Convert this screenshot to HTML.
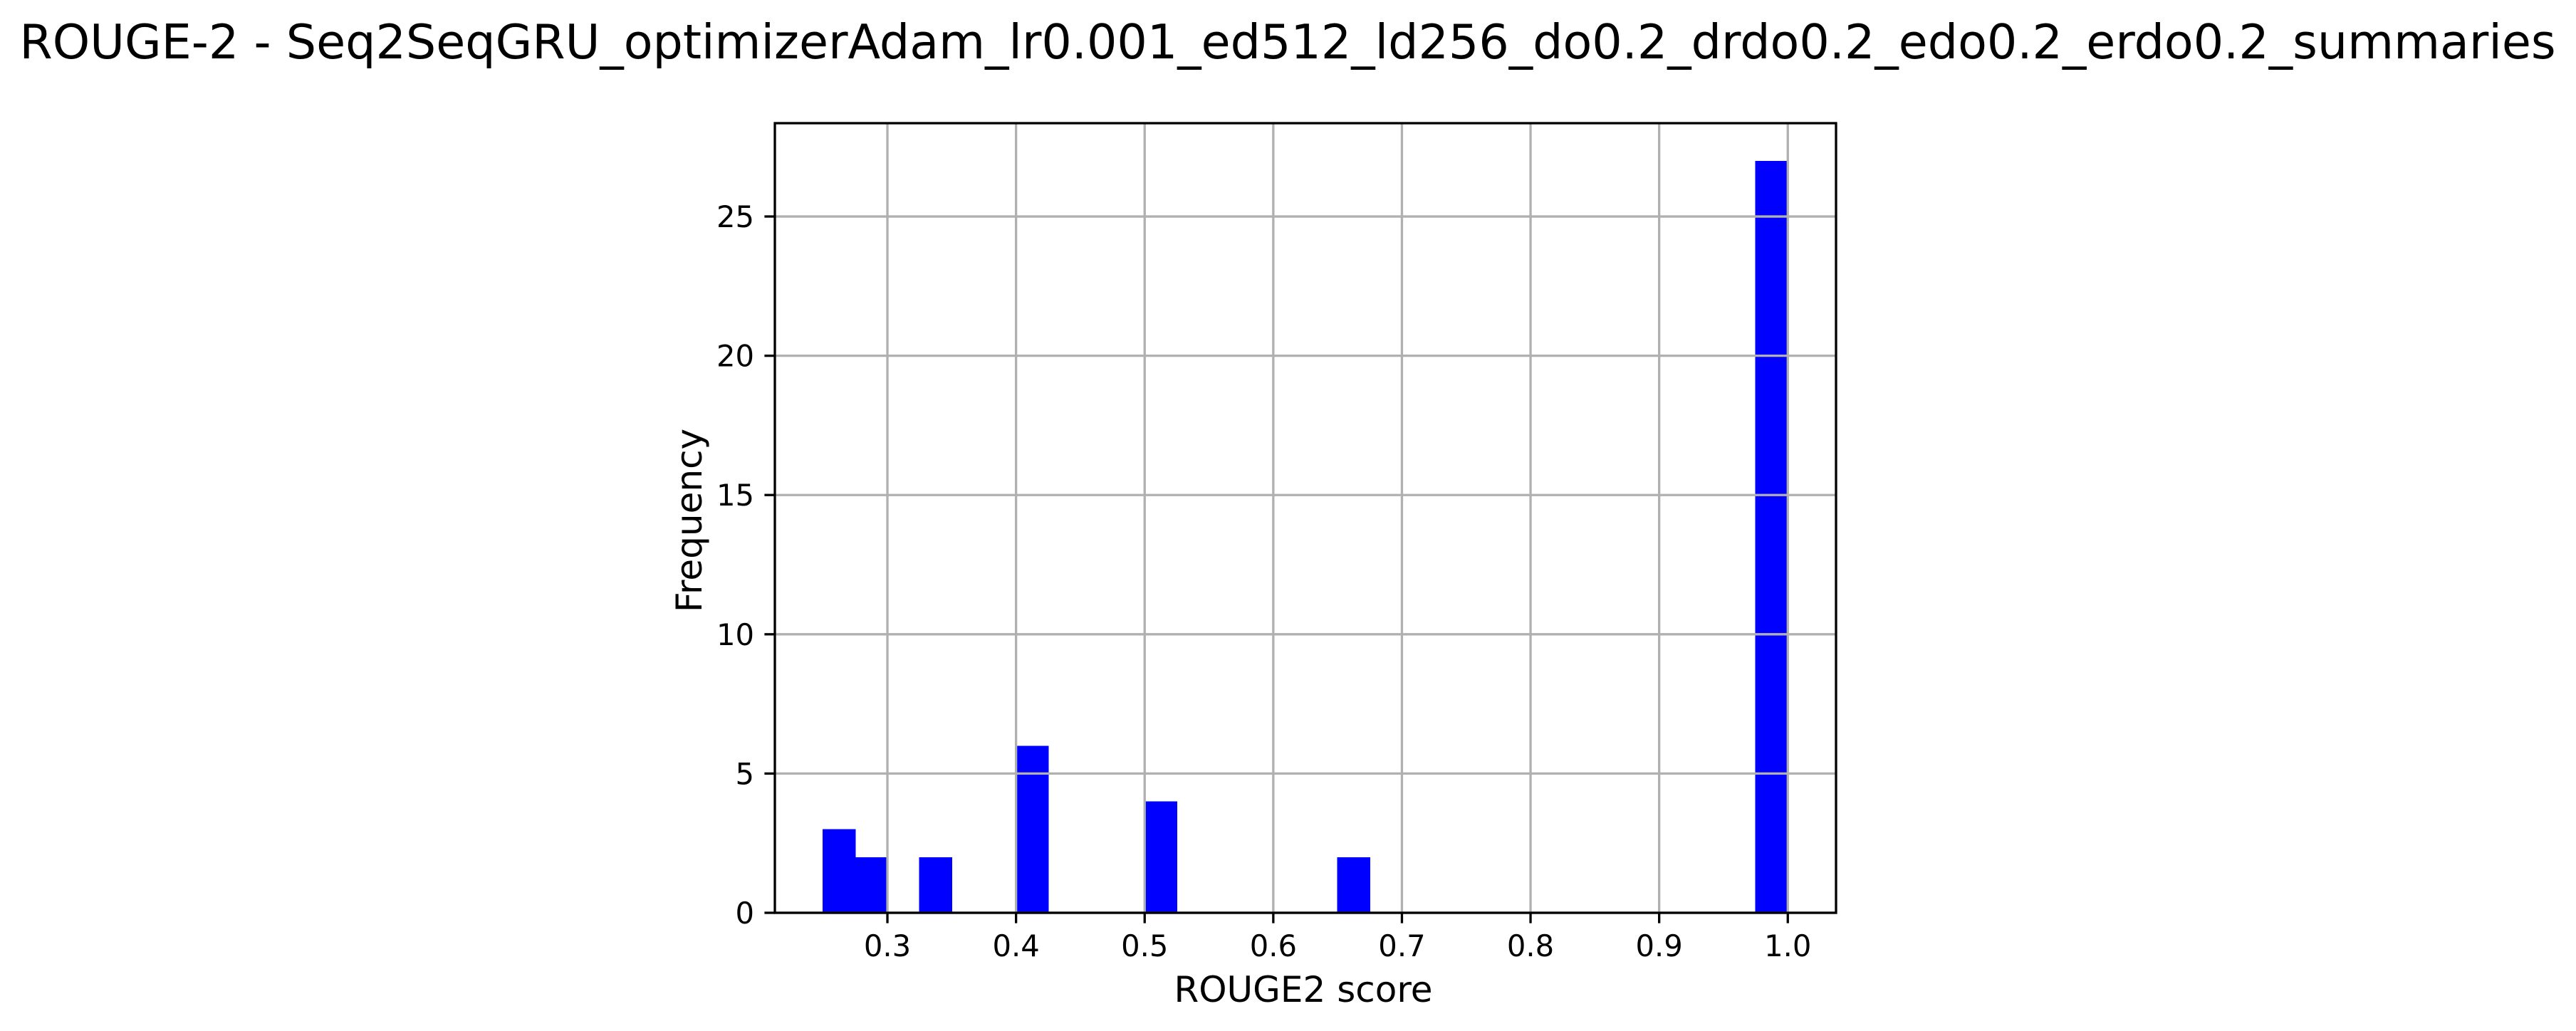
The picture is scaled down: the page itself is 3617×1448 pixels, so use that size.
<!DOCTYPE html>
<html><head><meta charset="utf-8"><style>html,body{margin:0;padding:0;background:#fff}svg{display:block}</style></head>
<body>
<svg id="chart" width="3617" height="1448" viewBox="0 0 3617 1448" xmlns="http://www.w3.org/2000/svg" font-family="DejaVu Sans, Liberation Sans, sans-serif">
<rect x="0" y="0" width="3617" height="1448" fill="#fff"/>
<text x="1808" y="82" text-anchor="middle" font-size="66.7" fill="#000">ROUGE-2 - Seq2SeqGRU_optimizerAdam_lr0.001_ed512_ld256_do0.2_drdo0.2_edo0.2_erdo0.2_summaries</text>
<g id="bars"></g>
<g id="grid"></g>
<g id="axes"></g>
<text x="1830" y="1407" text-anchor="middle" font-size="50" fill="#000">ROUGE2 score</text>
<text x="0" y="0" transform="translate(985,731) rotate(-90)" text-anchor="middle" font-size="50" fill="#000">Frequency</text>
</svg>
<script>
const binStart = 0.25;
const binWidth = 0.025;
const counts = [3,2,0,2,0,0,6,0,0,0,4,0,0,0,0,0,2,0,0,0,0,0,0,0,0,0,0,0,0,27];
const xTicks = [0.3,0.4,0.5,0.6,0.7,0.8,0.9,1.0];
const xTickLabels = ["0.3","0.4","0.5","0.6","0.7","0.8","0.9","1.0"];
const yTicks = [0,5,10,15,20,25];
const yTickLabels = ["0","5","10","15","20","25"];

const NS = "http://www.w3.org/2000/svg";
const L = 1088, R = 2578, T = 173, B = 1282;
const xmin = 0.2125, xmax = 1.0375, ymax = 28.35;
const xs = v => L + (v - xmin) / (xmax - xmin) * (R - L);
const ys = v => B - v / ymax * (B - T);
function mk(tag, attrs, parent) {
  const e = document.createElementNS(NS, tag);
  for (const k in attrs) e.setAttribute(k, attrs[k]);
  parent.appendChild(e);
  return e;
}
const gb = document.getElementById('bars');
counts.forEach((c, i) => {
  if (c <= 0) return;
  const x0 = xs(binStart + i * binWidth), x1 = xs(binStart + (i + 1) * binWidth);
  const r = mk('rect', {x: x0 - 0.5, y: ys(c), width: x1 - x0 + 1, height: ys(0) - ys(c), fill: '#0000ff', 'shape-rendering': 'crispEdges'}, gb);
  
  
});
const gg = document.getElementById('grid');
const ga = document.getElementById('axes');
xTicks.forEach((v, i) => {
  const x = xs(v);
  const g = mk('line', {x1: x, x2: x, y1: T, y2: B, stroke: '#b0b0b0', 'stroke-width': 3.3}, gg);
  
  
  const t = mk('line', {x1: x, x2: x, y1: B, y2: B + 14.6, stroke: '#000', 'stroke-width': 3.3}, ga);
  
  
  const tx = mk('text', {x: x, y: 1343, 'text-anchor': 'middle', 'font-size': 41.7, fill: '#000'}, ga);
  tx.textContent = xTickLabels[i];
  
  
});
yTicks.forEach((v, i) => {
  const y = ys(v);
  const g = mk('line', {x1: L, x2: R, y1: y, y2: y, stroke: '#b0b0b0', 'stroke-width': 3.3}, gg);
  
  
  const t = mk('line', {x1: L - 14.6, x2: L, y1: y, y2: y, stroke: '#000', 'stroke-width': 3.3}, ga);
  
  
  const tx = mk('text', {x: L - 29, y: y + 15, 'text-anchor': 'end', 'font-size': 41.7, fill: '#000'}, ga);
  tx.textContent = yTickLabels[i];
  
  
});
const frame = mk('rect', {x: L, y: T, width: R - L, height: B - T, fill: 'none', stroke: '#000', 'stroke-width': 3.3}, ga);


</script>
</body></html>
